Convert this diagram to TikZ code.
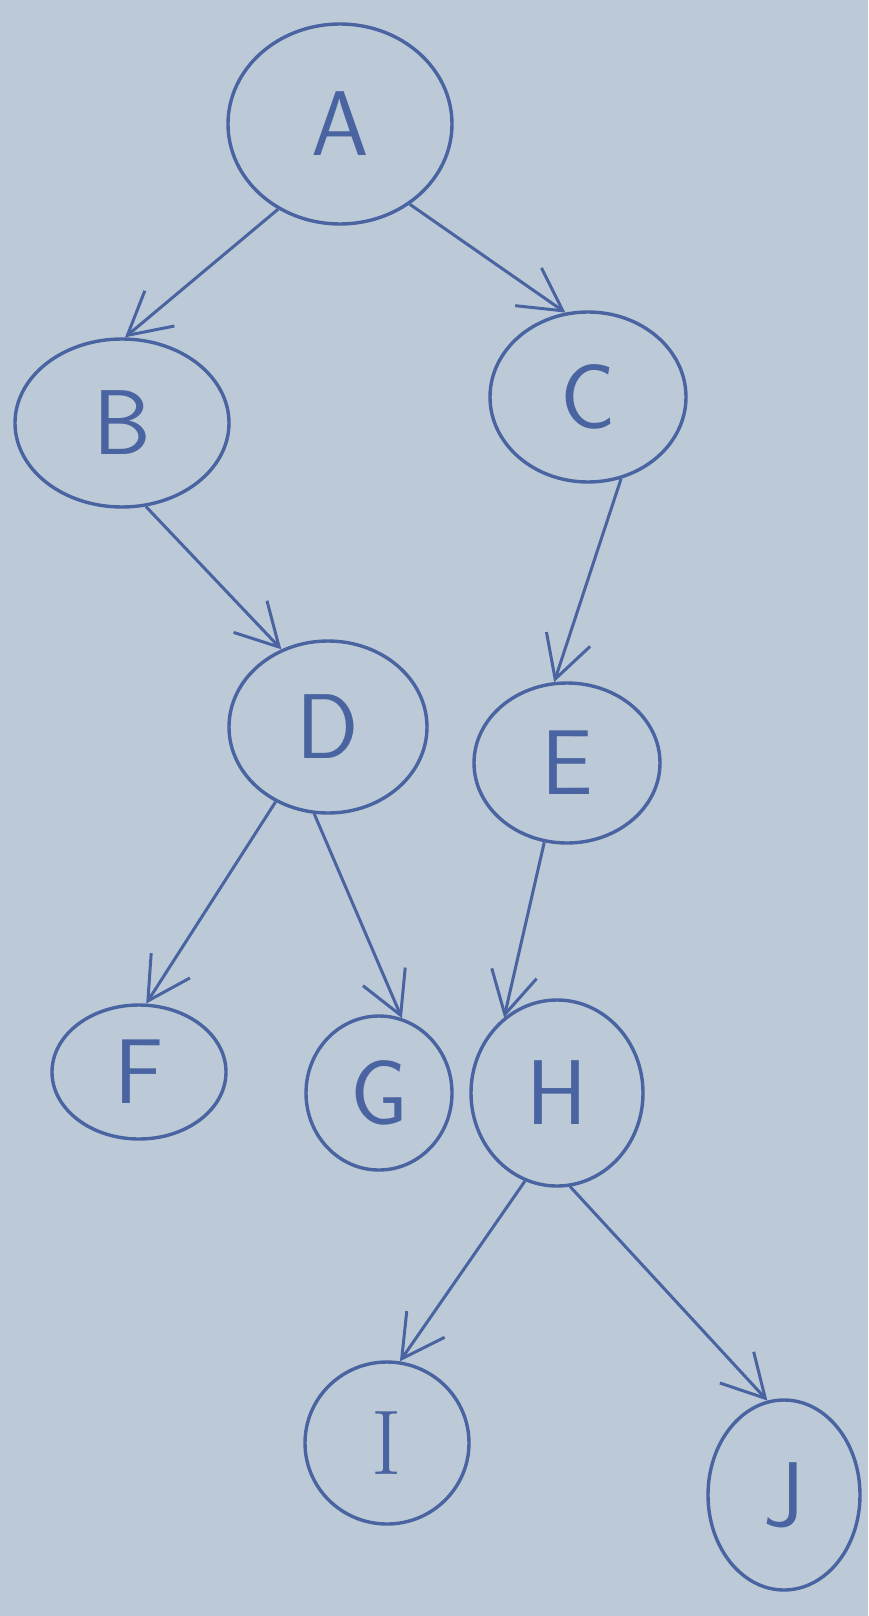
\documentclass[tikz,border=0pt]{standalone}
\usetikzlibrary{shapes.geometric,arrows.meta}
\definecolor{board}{HTML}{BCCAD7}
\definecolor{ink}{HTML}{4A64A2}
\begin{document}
\begin{tikzpicture}[x=1pt,y=-1pt,
  vert/.style={ellipse,draw=ink,line width=3.4pt,inner sep=0pt,text=ink,
    font=\sffamily\fontsize{92}{92}\selectfont},
  edge/.style={draw=ink,line width=3pt,-{Straight Barb[length=42pt,width=46pt,line width=3pt]}}]
\fill[board] (0,0) rectangle (868,1616);
\useasboundingbox (0,0) rectangle (868,1616);
\node[vert,minimum width=224pt,minimum height=200pt] (A) at (340,124) {A};
\node[vert,minimum width=214pt,minimum height=168pt] (B) at (122,423) {B};
\node[vert,minimum width=196pt,minimum height=170pt] (C) at (588,397) {C};
\node[vert,minimum width=198pt,minimum height=172pt] (D) at (328,727) {D};
\node[vert,minimum width=186pt,minimum height=160pt] (E) at (567,763) {E};
\node[vert,minimum width=174pt,minimum height=134pt] (F) at (139,1072) {F};
\node[vert,minimum width=146pt,minimum height=154pt] (G) at (379,1093) {G};
\node[vert,minimum width=172pt,minimum height=186pt] (H) at (557,1093) {H};
\node[vert,minimum width=164pt,minimum height=162pt] (I) at (387,1443) {\rmfamily I};
\node[vert,minimum width=152pt,minimum height=190pt] (J) at (784,1495) {J};
\draw[edge] (A.234) -- (B.88);
\draw[edge] (A.311) -- (C.105);
\draw[edge] (B.286) -- (D.121);
\draw[edge] (C.292) -- (E.99);
\draw[edge] (D.235) -- (F.84);
\draw[edge] (D.261) -- (G.73);
\draw[edge] (E.254) -- (H.125);
\draw[edge] (H.250) -- (I.81);
\draw[edge] (H.278) -- (J.100);
\end{tikzpicture}
\end{document}
